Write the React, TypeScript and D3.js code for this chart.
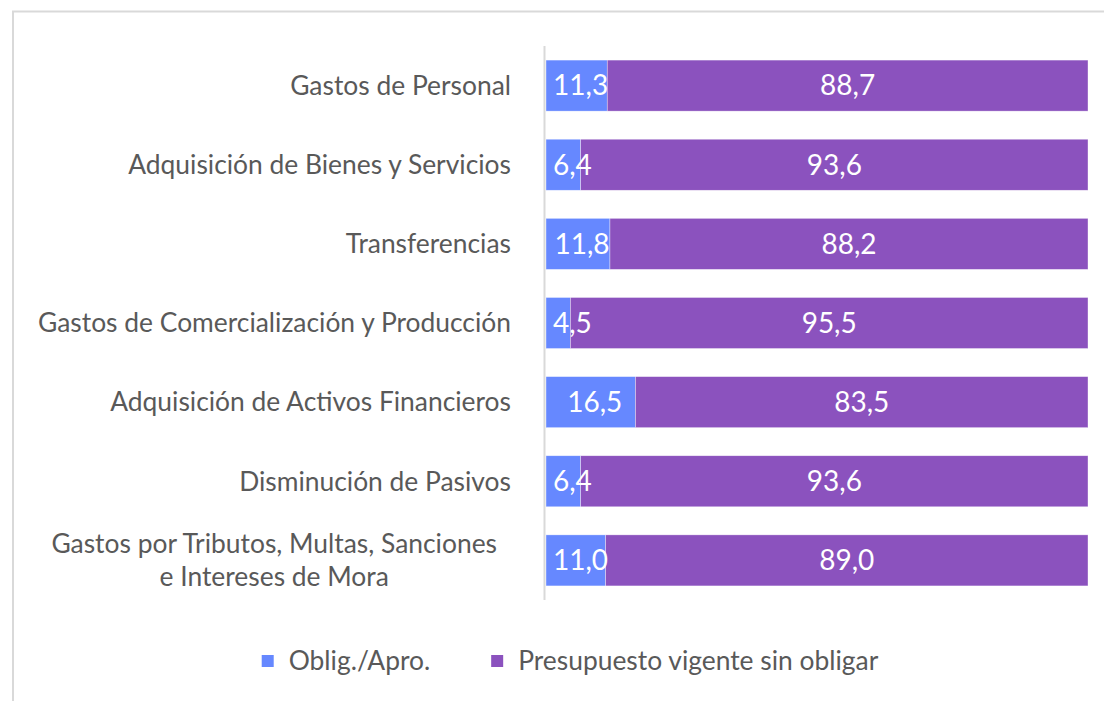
import React, { useEffect, useRef } from "react";
import * as d3 from "d3";

const categories = [
  "Gastos de Personal",
  "Adquisición de Bienes y Servicios",
  "Transferencias",
  "Gastos de Comercialización y Producción",
  "Adquisición de Activos Financieros",
  "Disminución de Pasivos",
  "Gastos por Tributos, Multas, Sanciones\ne Intereses de Mora",
];
const obligado = [11.3, 6.4, 11.8, 4.5, 16.5, 6.4, 11.0];
const sinObligar = [88.7, 93.6, 88.2, 95.5, 83.5, 93.6, 89.0];
const seriesNames = ["Oblig./Apro.", "Presupuesto vigente sin obligar"];
const colors = ["#6688ff", "#8b52be"];

const W = 1104;
const H = 701;
const FONT = "Lato, 'Open Sans', sans-serif";
const LABEL_SIZE = 26.4;
const VALUE_SIZE = 28;
const fmt = (v: number) => v.toFixed(1).replace(".", ",");

export default function App() {
  const ref = useRef<SVGSVGElement>(null);

  useEffect(() => {
    document.body.style.margin = "0";
    const svg = d3.select(ref.current);
    svg.selectAll("*").remove();

    // chart frame (cropped at right/bottom)
    svg
      .append("rect")
      .attr("x", 13)
      .attr("y", 11.5)
      .attr("width", W + 20)
      .attr("height", H + 20)
      .attr("fill", "#fff")
      .attr("stroke", "#d9d9d9")
      .attr("stroke-width", 2);

    const x = d3.scaleLinear().domain([0, 100]).range([546, 1088]);
    const y = d3
      .scaleBand<string>()
      .domain(categories)
      .range([46, 600])
      .paddingInner(0.355)
      .paddingOuter(0.178);

    const rows = categories.map((c, i) => ({ c, a: obligado[i], b: sinObligar[i] }));

    const g = svg.append("g");
    // stacked bars
    [0, 1].forEach((s) => {
      g.selectAll(`rect.s${s}`)
        .data(rows)
        .enter()
        .append("rect")
        .attr("class", `s${s}`)
        .attr("x", (d) => (s === 0 ? x(0) : x(d.a)))
        .attr("y", (d) => y(d.c)!)
        .attr("width", (d) => (s === 0 ? x(d.a) - x(0) : x(d.a + d.b) - x(d.a)))
        .attr("height", y.bandwidth())
        .attr("fill", colors[s])
        .attr("stroke", "#ffffff")
        .attr("stroke-opacity", 0.6)
        .attr("stroke-width", 0.6);
    });

    // axis line
    svg
      .append("line")
      .attr("x1", 544.5)
      .attr("x2", 544.5)
      .attr("y1", 46)
      .attr("y2", 600)
      .attr("stroke", "#d9d9d9")
      .attr("stroke-width", 2);

    // data labels
    rows.forEach((d) => {
      const cy = y(d.c)! + y.bandwidth() / 2;
      const t1 = g
        .append("text")
        .attr("y", cy)
        .attr("dy", "0.35em")
        .attr("text-anchor", "middle")
        .attr("fill", "#fff")
        .attr("font-family", FONT)
        .attr("font-size", VALUE_SIZE)
        .text(fmt(d.a));
      const w1 = (t1.node() as SVGTextElement).getComputedTextLength();
      const c1 = Math.max((x(0) + x(d.a)) / 2 + 4, x(0) + 7 + w1 / 2);
      t1.attr("x", c1);

      g.append("text")
        .attr("x", (x(d.a) + x(d.a + d.b)) / 2)
        .attr("y", cy)
        .attr("dy", "0.35em")
        .attr("text-anchor", "middle")
        .attr("fill", "#fff")
        .attr("font-family", FONT)
        .attr("font-size", VALUE_SIZE)
        .text(fmt(d.b));
    });

    // category labels
    rows.forEach((d) => {
      const lines = d.c.split("\n");
      const cy = y(d.c)! + y.bandwidth() / 2;
      const lh = 33;
      if (lines.length === 1) {
        svg
          .append("text")
          .attr("x", 511)
          .attr("y", cy)
          .attr("dy", "0.35em")
          .attr("text-anchor", "end")
          .attr("fill", "#595959")
          .attr("font-family", FONT)
          .attr("font-size", LABEL_SIZE)
          .text(lines[0]);
      } else {
        const ts = lines.map((l, i) =>
          svg
            .append("text")
            .attr("y", cy + (i - (lines.length - 1) / 2) * lh)
            .attr("dy", "0.35em")
            .attr("text-anchor", "middle")
            .attr("fill", "#595959")
            .attr("font-family", FONT)
            .attr("font-size", LABEL_SIZE)
            .text(l)
        );
        const maxW = d3.max(ts, (t) => (t.node() as SVGTextElement).getComputedTextLength()) || 0;
        ts.forEach((t) => t.attr("x", 497 - maxW / 2));
      }
    });

    // legend
    const lg = svg.append("g");
    let cx = 0;
    seriesNames.forEach((n, i) => {
      lg.append("rect")
        .attr("x", cx)
        .attr("y", -6)
        .attr("width", 12)
        .attr("height", 12)
        .attr("fill", colors[i]);
      const t = lg
        .append("text")
        .attr("x", cx + 27)
        .attr("y", 0)
        .attr("dy", "0.35em")
        .attr("fill", "#595959")
        .attr("font-family", FONT)
        .attr("font-size", LABEL_SIZE)
        .text(n);
      cx += 27 + (t.node() as SVGTextElement).getComputedTextLength() + 61;
    });
    const total = cx - 61;
    lg.attr("transform", `translate(${570 - total / 2},661)`);
  }, []);

  return <svg ref={ref} width={W} height={H} style={{ display: "block" }} />;
}
